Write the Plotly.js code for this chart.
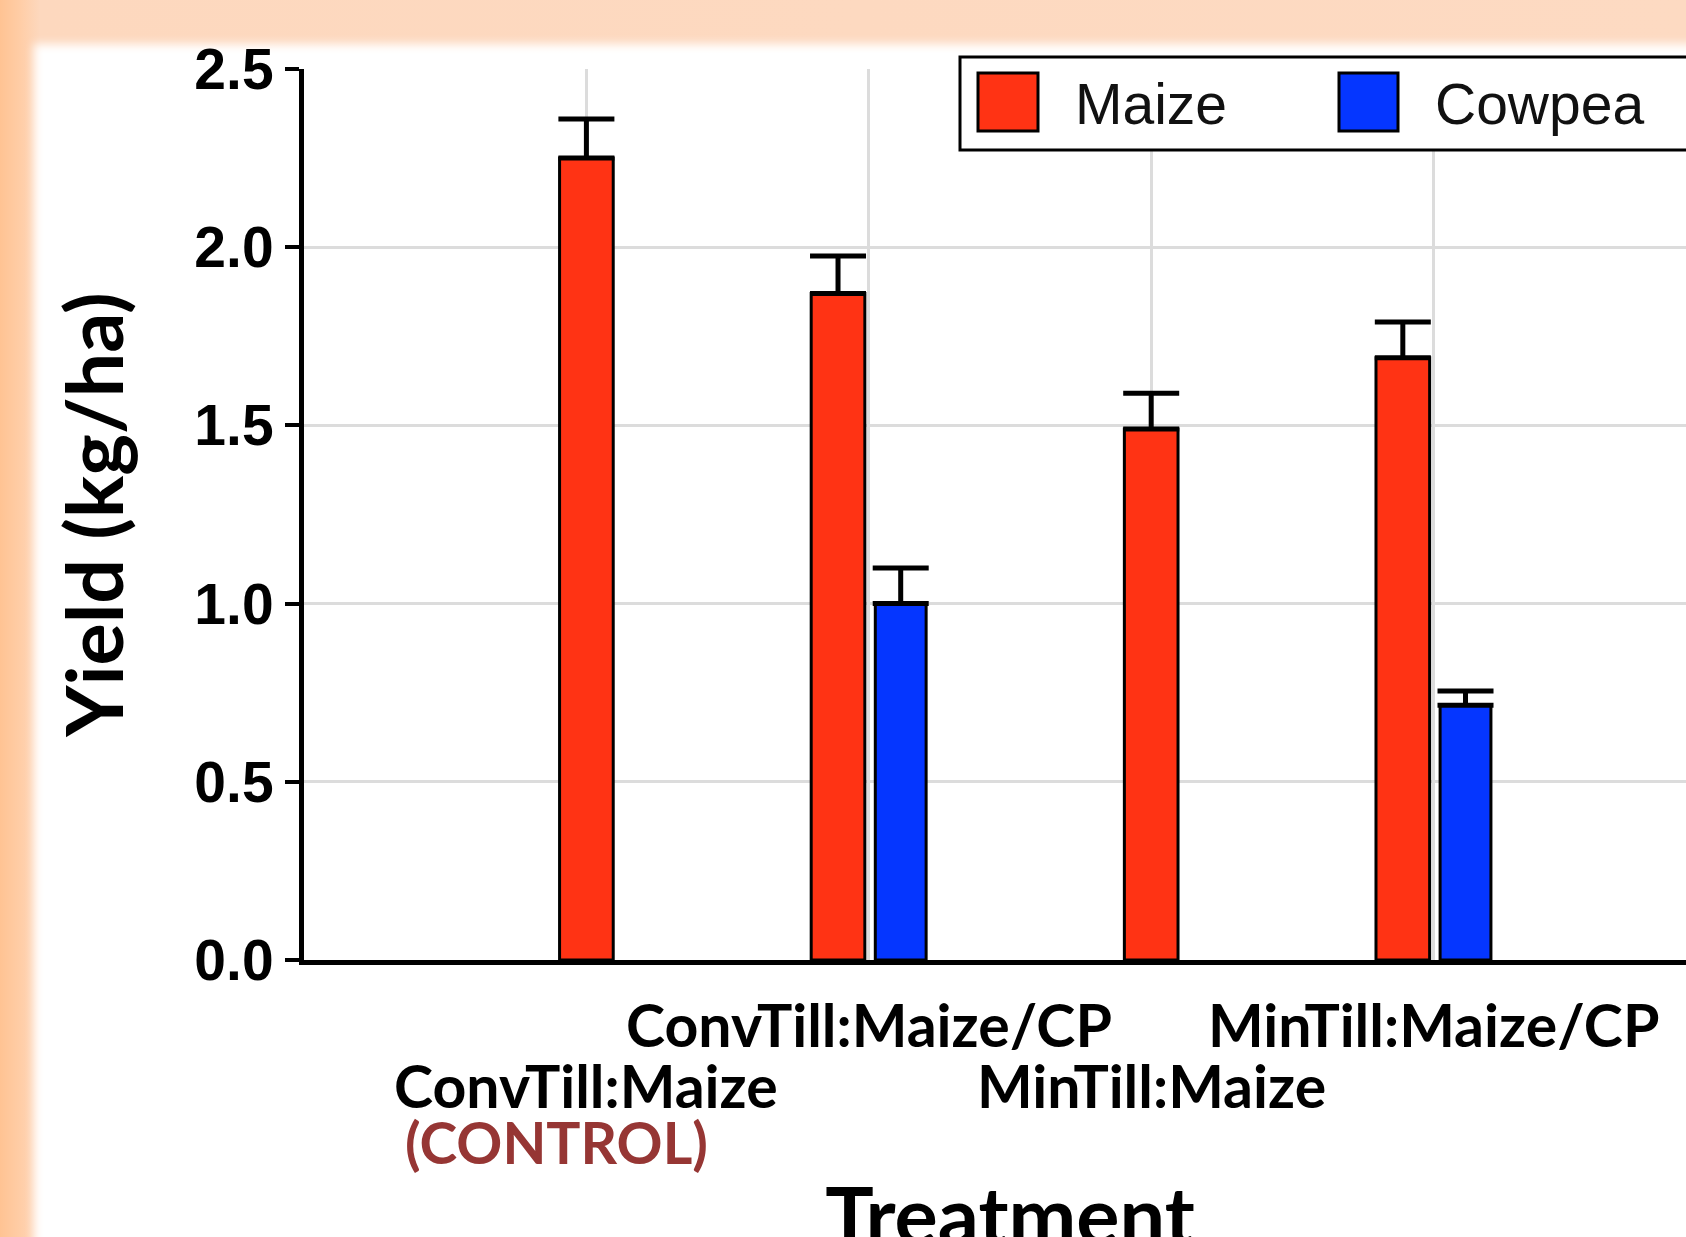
<!DOCTYPE html>
<html>
<head>
<meta charset="utf-8">
<script src="https://cdn.plot.ly/plotly-3.0.1.min.js"></script>
<style>
  html, body { margin: 0; padding: 0; width: 1686px; height: 1237px; overflow: hidden; }
  body { background: linear-gradient(to right, #FFC393 0px, #FFCDA6 20px, #FDD8BE 40px, #FDDAC2 100%); position: relative; }
  #panel { position: absolute; left: 34px; top: 44px; width: 1800px; height: 1400px; background: #ffffff; filter: blur(5px); }
  #chart { position: absolute; left: 0; top: 0; width: 1730px; height: 1270px; }
</style>
</head>
<body>
<div id="panel"></div>
<div id="chart"></div>
<script>
// ---- data ----
const categories   = ['ConvTill:Maize', 'ConvTill:Maize/CP', 'MinTill:Maize', 'MinTill:Maize/CP'];
const maizeYield   = [2.25, 1.87, 1.49, 1.69];
const maizeErr     = [0.11, 0.105, 0.10, 0.10];
const cowpeaYield  = [null, 1.00, null, 0.715];
const cowpeaErr    = [null, 0.10, null, 0.04];
const seriesNames  = ['Maize', 'Cowpea'];
const yTickVals    = [0, 0.5, 1.0, 1.5, 2.0, 2.5];
const yTickText    = ['0.0', '0.5', '1.0', '1.5', '2.0', '2.5'];
const controlNote  = '(CONTROL)';
const xTitle       = 'Treatment';
const yTitle       = 'Yield (kg/ha)';

// ---- styles ----
const maizeColor = '#FF3314';
const cowpeaColor = '#0536FF';
const W = 1730, Hgt = 1270;
const M = { l: 304, r: 14, t: 69, b: 310 };
const PW = W - M.l - M.r, PH = Hgt - M.t - M.b;
const px = p => (p - M.l) / PW;          // page px -> paper x
const py = p => (Hgt - M.b - p) / PH;    // page px -> paper y

const calibri = 'Lato, Calibri, Carlito, sans-serif';
const arial = '"Liberation Sans", Arial, sans-serif';

// split maize into sole-crop and intercrop groups
const soleIdx = categories.map((c, i) => i).filter(i => cowpeaYield[i] === null);
const interIdx = categories.map((c, i) => i).filter(i => cowpeaYield[i] !== null);
const pick = (arr, idx) => idx.map(i => arr[i]);

const barW = 0.19;
const errStyle = (vals) => ({
  type: 'data', symmetric: false, array: vals, arrayminus: vals.map(() => 0),
  color: '#000000', thickness: 5, width: 28
});
const lineStyle = { color: '#000000', width: 3 };

const traces = [
  { type: 'bar', name: seriesNames[0], x: pick(categories, soleIdx), y: pick(maizeYield, soleIdx),
    error_y: errStyle(pick(maizeErr, soleIdx)), width: barW, offset: -barW / 2,
    marker: { color: maizeColor, line: lineStyle }, showlegend: false, hoverinfo: 'x+y' },
  { type: 'bar', name: seriesNames[0], x: pick(categories, interIdx), y: pick(maizeYield, interIdx),
    error_y: errStyle(pick(maizeErr, interIdx)), width: barW, offset: -0.204,
    marker: { color: maizeColor, line: lineStyle }, showlegend: false, hoverinfo: 'x+y' },
  { type: 'bar', name: seriesNames[1], x: pick(categories, interIdx), y: pick(cowpeaYield, interIdx),
    error_y: errStyle(pick(cowpeaErr, interIdx)), width: 0.18, offset: 0.023,
    marker: { color: cowpeaColor, line: lineStyle }, showlegend: false, hoverinfo: 'x+y' }
];

// x category labels in two staggered rows
const annotations = categories.map((c, i) => ({
  text: c, x: c, xref: 'x', y: 0, yref: 'paper', yanchor: 'middle', xanchor: 'center',
  yshift: (i % 2 === 1) ? -64 : -125, showarrow: false,
  font: { family: calibri, size: 59, color: '#000000', weight: 700 }
}));
annotations.push({
  text: controlNote, x: categories[0], xref: 'x', xshift: -30, y: 0, yref: 'paper', yanchor: 'middle',
  yshift: -182, showarrow: false, font: { family: calibri, size: 57, color: '#963634', weight: 700 }
});
// manual legend text
const legendText = [[1073, seriesNames[0]], [1433, seriesNames[1]]];
legendText.forEach(([x, t]) => annotations.push({
  text: t, x: px(x), xref: 'paper', xanchor: 'left', y: py(104), yref: 'paper', yanchor: 'middle',
  showarrow: false, font: { family: arial, size: 57, color: '#111111' }
}));

const rect = (x0, y0, x1, y1, fill, lw) => ({
  type: 'rect', xref: 'paper', yref: 'paper', x0: px(x0), x1: px(x1), y0: py(y1), y1: py(y0),
  fillcolor: fill, line: { color: '#000000', width: lw }, layer: 'above'
});
const shapes = [
  rect(960, 57, 1800, 150, '#ffffff', 3),
  rect(978, 73, 1038, 131, maizeColor, 3),
  rect(1339, 73, 1398, 131, cowpeaColor, 3)
];

const layout = {
  width: W, height: Hgt, margin: M,
  paper_bgcolor: 'rgba(0,0,0,0)', plot_bgcolor: '#ffffff',
  barmode: 'overlay', showlegend: false,
  xaxis: {
    type: 'category', categoryarray: categories, range: [-1, 4],
    showticklabels: false, ticks: '', showgrid: true, gridcolor: '#DCDCDC', gridwidth: 3,
    showline: true, linecolor: '#000000', linewidth: 5, zeroline: false, fixedrange: true,
    title: { text: xTitle, standoff: 226, font: { family: calibri, size: 81, color: '#000000', weight: 700 } }
  },
  yaxis: {
    range: [0, 2.5], tickvals: yTickVals, ticktext: yTickText,
    ticks: 'outside', ticklen: 14, tickwidth: 4, tickcolor: '#000000',
    tickfont: { family: arial, size: 57, color: '#000000', weight: 700 },
    showgrid: true, gridcolor: '#DCDCDC', gridwidth: 3,
    showline: true, linecolor: '#000000', linewidth: 5, zeroline: false, fixedrange: true,
    title: { text: yTitle, standoff: 46, font: { family: calibri, size: 79, color: '#000000', weight: 700 } }
  },
  annotations: annotations,
  shapes: shapes
};

Plotly.newPlot('chart', traces, layout, { displayModeBar: false, staticPlot: true });
</script>
</body>
</html>
